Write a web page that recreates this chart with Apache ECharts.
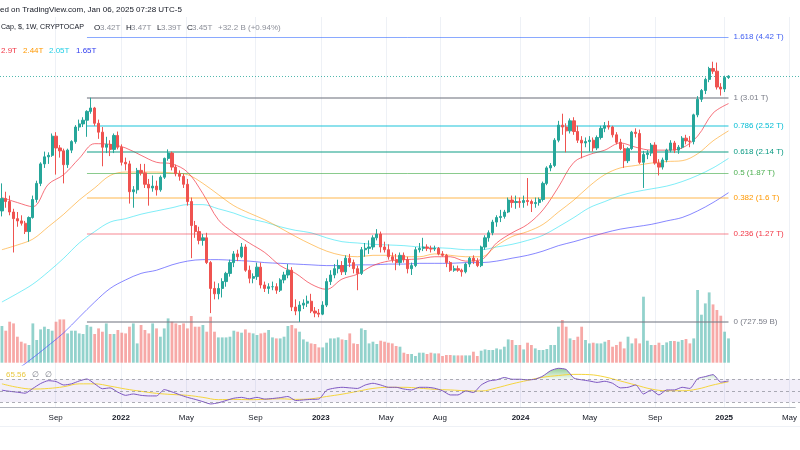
<!DOCTYPE html>
<html><head><meta charset="utf-8">
<script src="https://cdn.jsdelivr.net/npm/echarts@6/dist/echarts.min.js"></script>
<style>html,body{margin:0;padding:0;background:#fff}#c{width:800px;height:450px}</style>
</head><body><div id="c"></div>
<script>
// ---------- DATA (values in trillions USD unless noted) ----------
const START_DATE = '2021-05-31';
const WEEKS_ON_AXIS = 207;
const opens = [1.47,1.59,1.56,1.46,1.40,1.38,1.36,1.29,1.41,1.58,
1.75,1.98,2.07,2.09,2.36,2.19,2.15,1.97,2.16,2.28,
2.50,2.55,2.61,2.76,2.82,2.56,2.42,2.20,2.24,2.17,
2.37,2.20,2.00,1.98,1.66,1.68,1.90,1.87,1.74,1.70,
1.72,1.68,1.82,2.05,2.12,1.94,1.86,1.83,1.74,1.56,
1.34,1.29,1.22,1.24,1.06,0.90,0.87,0.90,0.94,0.99,
1.06,1.12,1.10,1.17,1.01,0.96,0.97,1.03,0.92,0.90,
0.91,0.91,0.89,0.95,0.98,1.01,0.80,0.78,0.81,0.82,
0.83,0.78,0.77,0.765,0.81,0.94,0.98,1.02,1.04,1.00,
1.09,1.06,1.02,0.99,1.15,1.16,1.17,1.24,1.27,1.17,
1.15,1.10,1.08,1.06,1.11,1.08,1.02,1.04,1.15,1.16,
1.17,1.16,1.155,1.16,1.12,1.11,1.06,1.01,1.02,1.01,
1.00,1.05,1.09,1.07,1.04,1.17,1.24,1.28,1.37,1.41,
1.42,1.46,1.575,1.55,1.56,1.55,1.57,1.56,1.54,1.55,
1.58,1.75,1.93,1.96,2.30,2.53,2.50,2.44,2.60,2.43,
2.30,2.26,2.28,2.30,2.19,2.34,2.48,2.52,2.50,2.38,
2.27,2.18,2.02,2.18,2.42,2.40,2.00,2.10,2.12,2.23,
1.99,1.94,2.03,2.16,2.26,2.16,2.20,2.33,2.29,2.28,
2.70,2.98,3.15,3.38,3.62,3.56,3.22,3.18,3.42];
const highs = [1.75,1.66,1.62,1.49,1.46,1.43,1.38,1.42,1.62,1.78,
2.00,2.14,2.13,2.40,2.42,2.23,2.18,2.18,2.30,2.53,
2.62,2.66,2.78,3.01,2.84,2.62,2.50,2.35,2.30,2.40,
2.43,2.24,2.06,2.02,1.72,1.93,1.98,1.98,1.80,1.84,
1.78,1.84,2.06,2.17,2.14,1.97,1.90,1.86,1.80,1.60,
1.38,1.33,1.27,1.28,1.07,0.94,0.93,0.96,1.00,1.08,
1.14,1.15,1.20,1.19,1.04,0.99,1.06,1.06,0.94,0.93,
0.94,0.93,0.96,1.00,1.05,1.03,0.84,0.83,0.84,0.86,
0.87,0.80,0.79,0.83,0.96,1.01,1.05,1.08,1.07,1.11,
1.12,1.08,1.04,1.17,1.20,1.22,1.26,1.31,1.29,1.21,
1.19,1.13,1.12,1.13,1.13,1.10,1.06,1.17,1.20,1.24,
1.19,1.18,1.18,1.17,1.14,1.12,1.07,1.04,1.04,1.02,
1.06,1.10,1.11,1.09,1.18,1.26,1.30,1.39,1.43,1.48,
1.48,1.60,1.62,1.62,1.60,1.62,1.81,1.58,1.60,1.60,
1.77,1.95,1.99,2.33,2.60,2.72,2.56,2.64,2.66,2.52,
2.36,2.34,2.36,2.34,2.37,2.52,2.58,2.60,2.52,2.42,
2.32,2.24,2.20,2.44,2.48,2.46,2.15,2.16,2.26,2.27,
2.04,2.06,2.18,2.30,2.29,2.23,2.36,2.38,2.36,2.72,
3.04,3.18,3.42,3.66,3.78,3.76,3.30,3.46,3.47];
const lows = [1.42,1.50,1.43,1.13,1.33,1.34,1.27,1.21,1.40,1.55,
1.72,1.93,1.98,2.07,1.85,2.06,1.75,1.93,2.12,2.25,
2.44,2.50,2.35,2.72,2.52,2.32,1.95,2.12,2.08,2.12,
2.17,1.96,1.90,1.54,1.50,1.64,1.84,1.70,1.52,1.66,
1.62,1.66,1.80,2.02,1.90,1.83,1.78,1.70,1.52,1.09,
1.24,1.19,1.18,1.05,0.77,0.84,0.84,0.85,0.91,0.97,
1.03,1.07,1.09,1.00,0.93,0.93,0.95,0.90,0.88,0.87,
0.89,0.87,0.88,0.93,0.96,0.78,0.76,0.728,0.79,0.80,
0.77,0.75,0.75,0.76,0.80,0.92,0.96,0.99,0.98,0.98,
1.03,0.99,0.89,0.98,1.10,1.12,1.15,1.22,1.13,1.13,
1.08,1.06,1.01,1.04,1.06,0.99,0.98,1.03,1.13,1.14,
1.14,1.13,1.14,1.11,1.10,1.03,1.00,1.00,1.00,0.97,
0.99,1.03,1.05,1.03,1.03,1.15,1.21,1.26,1.33,1.37,
1.40,1.45,1.50,1.49,1.50,1.50,1.52,1.46,1.50,1.52,
1.56,1.73,1.89,1.94,2.27,2.38,2.13,2.40,2.38,2.26,
2.05,2.20,2.14,2.14,2.16,2.31,2.42,2.46,2.34,2.24,
2.16,1.93,1.99,2.16,2.34,1.98,1.70,2.04,2.08,1.97,
1.84,1.91,2.00,2.13,2.12,2.11,2.18,2.24,2.20,2.24,
2.66,2.93,3.08,3.32,3.50,3.17,3.05,3.12,3.39];
const closes = [1.59,1.56,1.46,1.40,1.38,1.36,1.29,1.41,1.58,1.75,
1.98,2.07,2.09,2.36,2.19,2.15,1.97,2.16,2.28,2.50,
2.55,2.61,2.76,2.82,2.56,2.42,2.20,2.24,2.17,2.37,
2.20,2.00,1.98,1.66,1.68,1.90,1.87,1.74,1.70,1.72,
1.68,1.82,2.05,2.12,1.94,1.86,1.83,1.74,1.56,1.34,
1.29,1.22,1.24,1.06,0.90,0.87,0.90,0.94,0.99,1.06,
1.12,1.10,1.17,1.01,0.96,0.97,1.03,0.92,0.90,0.91,
0.91,0.89,0.95,0.98,1.01,0.80,0.78,0.81,0.82,0.83,
0.78,0.77,0.765,0.81,0.94,0.98,1.02,1.04,1.00,1.09,
1.06,1.02,0.99,1.15,1.16,1.17,1.24,1.27,1.17,1.15,
1.10,1.08,1.06,1.11,1.08,1.02,1.04,1.15,1.16,1.17,
1.16,1.155,1.16,1.12,1.11,1.06,1.01,1.02,1.01,1.00,
1.05,1.09,1.07,1.04,1.17,1.24,1.28,1.37,1.41,1.42,
1.46,1.575,1.55,1.56,1.55,1.57,1.56,1.54,1.55,1.58,
1.75,1.93,1.96,2.30,2.53,2.50,2.44,2.60,2.43,2.30,
2.26,2.28,2.30,2.19,2.34,2.48,2.52,2.50,2.38,2.27,
2.18,2.02,2.18,2.42,2.40,2.00,2.10,2.12,2.23,1.99,
1.94,2.03,2.16,2.26,2.16,2.20,2.33,2.29,2.28,2.70,
2.98,3.15,3.38,3.62,3.56,3.22,3.18,3.42,3.45];
// relative weekly volume (no scale shown)
const volumes = [36.7,32,41,39.3,26,21,19.3,17.7,39.3,22.7,
33.3,36,33.7,32,41,43.3,43.3,29.3,32,32,
29.3,28.7,37.7,36,28.7,34.3,31,39.3,28.7,28.7,
32.7,30,29.3,36,39.3,19.3,37.7,32.7,29.3,39.3,
34.3,26,34.3,44.3,41,39.3,37.7,39.3,34.3,46.7,
36,36,37.7,31,46,31,25.3,25.3,25.3,26,
32,31,30,33.3,30,29.3,27.7,29.3,30,32.7,
25.3,24.3,24.3,26,36.7,37.7,34.3,31,23.3,21,
19.3,18.7,15.3,15.3,20,24.3,24.3,25.3,23.3,22.7,
29.3,19.3,18.7,34.3,32.7,19.3,21,18.7,22,21,
20,19.3,16.7,16,10,8.7,8.7,6.7,10,10,
8.7,10,9.3,9.3,6.7,7.7,7.7,7.3,7.3,7.3,
7.3,7.3,11,6.7,12,13.3,12.7,12.7,14.3,13.3,
16,23.3,22.7,17.7,17.7,13.3,20,17.7,14.3,12.7,
12.7,13.7,17.7,17.7,36,42.7,36,24.3,22.7,26,
36,22.7,19.3,20,19.3,19.3,21,22.7,16,17.7,
21,14.3,26,19.3,24.3,19.3,66,22,17.7,17.7,
20,17.7,20.3,21.7,21.7,21,22.7,23.7,19.3,24.3,
72.7,48,59.3,70.3,58.3,52.7,47,31,24.3];
// moving averages, one value every MA_STEP weeks
const MA_STEP = 4;
const maRed = [1.60,1.55,1.51,1.74,1.85,2.05,2.25,2.24,2.19,2.09,
2.0,1.98,1.88,1.64,1.39,1.28,1.20,1.13,1.04,0.99,
0.925,0.895,0.955,0.985,1.04,1.07,1.08,1.085,1.10,1.10,
1.07,1.08,1.20,1.28,1.35,1.48,1.71,2.0,2.10,2.16,
2.26,2.20,2.16,2.16,2.19,2.36,2.73,2.90];
const maOrange = [1.15,1.185,1.23,1.33,1.44,1.575,1.70,1.84,1.88,1.88,
1.88,1.87,1.85,1.75,1.63,1.52,1.45,1.39,1.32,1.25,
1.19,1.14,1.11,1.10,1.11,1.11,1.10,1.10,1.12,1.11,
1.10,1.10,1.18,1.25,1.29,1.35,1.46,1.575,1.72,1.85,
1.93,1.96,1.99,2.01,2.02,2.11,2.29,2.44];
const maCyan = [0.826,0.872,0.925,1.0,1.09,1.20,1.29,1.37,1.40,1.44,
1.47,1.50,1.53,1.53,1.49,1.45,1.40,1.37,1.33,1.30,
1.28,1.24,1.21,1.20,1.19,1.185,1.18,1.17,1.165,1.16,
1.15,1.15,1.17,1.19,1.22,1.26,1.33,1.41,1.50,1.56,
1.62,1.66,1.69,1.72,1.77,1.84,1.93,2.05];
const maBlue = [0.51,0.54,0.58,0.627,0.68,0.75,0.826,0.90,0.95,0.99,
1.01,1.045,1.07,1.08,1.08,1.075,1.07,1.06,1.055,1.05,
1.045,1.04,1.04,1.045,1.045,1.05,1.05,1.055,1.055,1.055,
1.06,1.06,1.07,1.09,1.11,1.14,1.18,1.21,1.245,1.28,
1.31,1.33,1.35,1.38,1.41,1.47,1.55,1.65];
const maLegend = ['2.9T','2.44T','2.05T','1.65T'];
// RSI, one value every RSI_STEP weeks; its moving average every RSI_MA_STEP weeks
const RSI_STEP = 2;
const rsi = [51,49,47.5,45.7,54,62.5,67.5,66,60,62,
67,70.5,62,53.5,55,47.5,42,44.4,42,41,
41,52,48,43,38.5,35,31,27,29,33,
37,38.5,36,38.5,35.5,36.5,38,40,33,34,
35,35.5,51,54.5,56,55,54,60,63,60,
56,56,53,51.4,56,56,54.3,50,42.7,42.7,
49.6,47,60,67,69,73,70,70,69,70,
75.7,85,89,87,72,69,67,64.5,66.5,63,
55,56,60,44.4,51.4,42.7,51.4,51.4,56,54,
71,74.6,78,65,67];
const RSI_MA_STEP = 4;
const rsiMa = [62,56,53,54,57,62,62,58,53,49,
45.5,43.5,42,38.5,34.5,35,34.5,35,36,35,
36,40,44,49,54,56,56,54.5,52.5,51.4,
50,49.6,55,62,68,73.5,76.5,78.5,78,74,
67,60,53,50,50,53,60,65.56];
const RSI_LEVELS = [70, 50, 30];
// Fibonacci retracement drawing
const FIB_FROM = '2021-11-01', FIB_TO = '2025-01-06';
const fibRatios = ['1.618','1','0.786','0.618','0.5','0.382','0.236','0'];
const fibValues = [4.42, 3.01, 2.52, 2.14, 1.87, 1.6, 1.27, 0.72759];
const fibTexts = ['4.42 T','3.01 T','2.52 T','2.14 T','1.87 T','1.6 T','1.27 T','727.59 B'];
const LAST_PRICE = 3.45;
// time axis labels
const tickDates = ['2021-09-06','2022-01-03','2022-05-02','2022-09-05','2023-01-02','2023-05-01','2023-08-07','2024-01-01','2024-05-06','2024-09-02','2025-01-06','2025-05-05'];
const tickLabels = ['Sep','2022','May','Sep','2023','May','Aug','2024','May','Sep','2025','May'];

// ---------- CHART ----------
const FONT = '"Liberation Sans", Arial, sans-serif';
const UP = '#26a69a', DOWN = '#ef5350';
const cats = [];
const t0 = Date.parse(START_DATE + 'T00:00:00Z');
for (let k = 0; k < WEEKS_ON_AXIS; k++) cats.push(new Date(t0 + k * 7 * 86400000).toISOString().slice(0, 10));

const candleData = opens.map((o, i) => [o, closes[i], lows[i], highs[i]]);
const volData = volumes.map((v, i) => ({ value: v, itemStyle: { color: closes[i] >= opens[i] ? 'rgba(38,166,154,0.5)' : 'rgba(239,83,80,0.5)' } }));
const step = (arr, s) => arr.map((v, k) => [k * s, v]);

const fibLine = ['rgba(41,98,255,0.55)','rgba(120,123,134,0.75)','rgba(0,188,212,0.6)','rgba(8,153,129,0.65)','rgba(76,175,80,0.65)','rgba(255,152,0,0.35)','rgba(242,54,69,0.4)','rgba(120,123,134,0.55)'];
const fibWidth = [1,1.5,1.5,1.5,1,2,1.5,2];
const fibLabelColor = ['#3f5ef2','#787b86','#00bcd4','#089981','#4caf50','#ff9800','#f23645','#787b86'];
const fibMarks = fibValues.map((v, k) => [
  { coord: [FIB_FROM, v], lineStyle: { color: fibLine[k], width: fibWidth[k], type: 'solid' },
    label: { show: true, position: 'end', distance: 5, formatter: fibRatios[k] + ' (' + fibTexts[k] + ')', color: fibLabelColor[k], fontSize: 8, fontFamily: FONT } },
  { coord: [FIB_TO, v] }
]);

const isTick = (i, v) => tickDates.indexOf(v) >= 0;
const chart = echarts.init(document.getElementById('c'), null, { renderer: 'canvas' });
const maSeries = (data, color, name) => ({
  name, type: 'line', xAxisIndex: 1, yAxisIndex: 1, data: step(data, MA_STEP), showSymbol: false, smooth: 0.35,
  lineStyle: { color, width: 1 }, z: 3, silent: true, clip: true
});

const txt = (text, x, y, fill, size) => ({ type: 'text', x, y, style: { text, fill, font: 'normal ' + (size || 8) + 'px ' + FONT, textAlign: 'left', textVerticalAlign: 'middle', align: 'left', verticalAlign: 'middle' }, silent: true, z: 100 });

chart.setOption({
  animation: false,
  backgroundColor: '#ffffff',
  grid: [
    { left: 0, right: 0, top: 17, height: 390 },
    { left: 0, right: 0, top: 20, height: 345 },
    { left: 0, right: 0, top: 290, height: 72.7 },
    { left: 0, right: 0, top: 362, height: 57.5 }
  ],
  xAxis: [
    { gridIndex: 0, type: 'category', data: cats, boundaryGap: true,
      axisLine: { show: true, lineStyle: { color: '#b2b5be', width: 1 } },
      axisTick: { show: false, alignWithLabel: true },
      axisLabel: { interval: isTick, margin: 7, fontSize: 8, color: '#131722', fontFamily: FONT,
        formatter: v => { const k = tickDates.indexOf(v); const s = tickLabels[k]; return /^\d+$/.test(s) ? '{b|' + s + '}' : s; },
        rich: { b: { fontWeight: 'bold', fontSize: 8, fontFamily: FONT, color: '#131722' } } },
      splitLine: { show: true, interval: isTick, alignWithLabel: true, lineStyle: { color: '#eef1f6', width: 1 } } },
    { gridIndex: 1, type: 'category', data: cats, boundaryGap: true, show: false },
    { gridIndex: 2, type: 'category', data: cats, boundaryGap: true, show: false },
    { gridIndex: 3, type: 'category', data: cats, boundaryGap: true, show: false }
  ],
  yAxis: [
    { gridIndex: 0, type: 'value', show: false },
    { gridIndex: 1, type: 'log', logBase: 10, min: 0.5544, max: 4.922, show: false },
    { gridIndex: 2, type: 'value', min: 0, max: 72.7, show: false },
    { gridIndex: 3, type: 'value', min: 0, max: 100, show: false }
  ],
  series: [
    { name: 'Volume', type: 'bar', xAxisIndex: 2, yAxisIndex: 2, data: volData, barWidth: '72%', z: 1, silent: true },
    maSeries(maBlue, 'rgba(70,70,255,0.65)', 'MA blue'),
    maSeries(maCyan, 'rgba(0,220,240,0.5)', 'MA cyan'),
    maSeries(maOrange, 'rgba(255,152,0,0.55)', 'MA orange'),
    maSeries(maRed, 'rgba(242,54,69,0.7)', 'MA red'),
    { name: 'TOTAL', type: 'candlestick', xAxisIndex: 1, yAxisIndex: 1, data: candleData, barWidth: '70%', z: 5,
      itemStyle: { color: UP, color0: DOWN, borderColor: UP, borderColor0: DOWN, borderWidth: 1 },
      markLine: { symbol: ['none', 'none'], silent: true, animation: false, z: 4,
        data: fibMarks.concat([{ yAxis: LAST_PRICE, lineStyle: { color: 'rgba(38,166,154,0.8)', type: [1, 2], width: 1 }, label: { show: false } }]) } },
    { name: 'RSI', type: 'line', xAxisIndex: 3, yAxisIndex: 3, data: step(rsi, RSI_STEP), showSymbol: false, smooth: 0.2,
      lineStyle: { color: '#7e57c2', width: 1 }, z: 4, silent: true,
      markArea: { silent: true, itemStyle: { color: 'rgba(126,87,194,0.1)' }, data: [[{ yAxis: RSI_LEVELS[2] }, { yAxis: RSI_LEVELS[0] }]] },
      markLine: { symbol: ['none', 'none'], silent: true, label: { show: false },
        lineStyle: { color: 'rgba(120,123,134,0.6)', type: [3, 3], width: 1 },
        data: RSI_LEVELS.map(v => ({ yAxis: v })) } },
    { name: 'RSI overbought', type: 'line', xAxisIndex: 3, yAxisIndex: 3, data: step(rsi.map(v => Math.max(v, 70)), RSI_STEP), showSymbol: false, smooth: 0.2,
      lineStyle: { width: 0 }, z: 3, silent: true,
      areaStyle: { origin: 70, color: new echarts.graphic.LinearGradient(0, 0, 0, 1, [{ offset: 0, color: 'rgba(76,175,80,0.85)' }, { offset: 1, color: 'rgba(76,175,80,0.08)' }]) } },
    { name: 'RSI MA', type: 'line', xAxisIndex: 3, yAxisIndex: 3, data: step(rsiMa, RSI_MA_STEP), showSymbol: false, smooth: 0.4,
      lineStyle: { color: '#f5d53d', width: 1 }, z: 3, silent: true }
  ],
  graphic: [
    txt('ed on TradingView.com, Jan 06, 2025 07:28 UTC-5', 0, 10, '#131722'),
    txt('Cap, $, 1W, CRYPTOCAP', 1, 27.5, '#131722', 7.1),
    txt('O', 94, 27.5, '#131722'), txt('3.42T', 100, 27.5, '#8c8f99'),
    txt('H', 126, 27.5, '#131722'), txt('3.47T', 131, 27.5, '#8c8f99'),
    txt('L', 157, 27.5, '#131722'), txt('3.39T', 161, 27.5, '#8c8f99'),
    txt('C', 187, 27.5, '#131722'), txt('3.45T', 192, 27.5, '#8c8f99'),
    txt('+32.2 B (+0.94%)', 218, 27.5, '#8c8f99'),
    txt(maLegend[0], 1, 51, '#f23645'), txt(maLegend[1], 23, 51, '#ff9800'),
    txt(maLegend[2], 49, 51, '#22cfe6'), txt(maLegend[3], 76, 51, '#2f3cf0'),
    txt(rsiMa[rsiMa.length - 1].toFixed(2), 6, 374.5, '#e9c840'),
    txt('\u2205', 32, 374.5, '#787b86'), txt('\u2205', 45, 374.5, '#787b86'),
    { type: 'line', shape: { x1: 0, y1: 426.5, x2: 800, y2: 426.5 }, style: { stroke: '#eef1f6', lineWidth: 1 }, silent: true }
  ]
});
</script></body></html>
